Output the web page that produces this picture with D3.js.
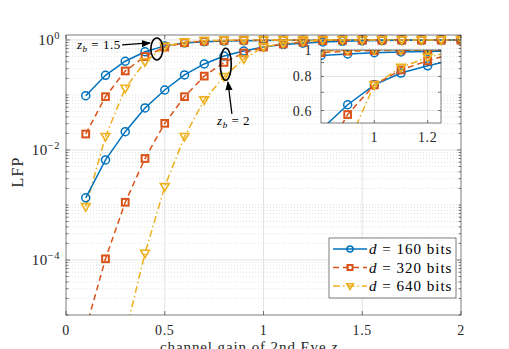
<!DOCTYPE html>
<html>
<head>
<meta charset="utf-8">
<script src="https://cdn.jsdelivr.net/npm/d3@7"></script>
<style>
  body { margin: 0; background: #fff; }
  svg { display: block; font-family: "Liberation Serif", serif; }
</style>
</head>
<body>
<svg id="chart" width="509" height="349"></svg>
<script>
// channel gain of 2nd Eve (x)
const zGain = [0.1, 0.2, 0.3, 0.4, 0.5, 0.6, 0.7, 0.8, 0.9, 1.0,
               1.1, 1.2, 1.3, 1.4, 1.5, 1.6, 1.7, 1.8, 1.9, 2.0];

// z_b = 1.5
const d160_zb15 = [0.097, 0.228, 0.41, 0.61, 0.78, 0.88, 0.93, 0.955, 0.967, 0.978,
                   0.984, 0.988, 0.992, 0.995, 0.997, 0.998, 0.999, 1, 1, 1];
const d320_zb15 = [0.0195, 0.093, 0.273, 0.50, 0.74, 0.89, 0.95, 0.978, 0.99, 0.995,
                   0.998, 0.999, 1, 1, 1, 1, 1, 1, 1, 1];
const d640_zb15 = [9.3e-4, 0.0175, 0.132, 0.40, 0.76, 0.92, 0.975, 0.99, 0.997, 0.999,
                   1, 1, 1, 1, 1, 1, 1, 1, 1, 1];
// z_b = 2
const d160_zb2 = [1.35e-3, 6.6e-3, 0.0215, 0.058, 0.123, 0.231, 0.366, 0.51, 0.63, 0.745,
                  0.823, 0.875, 0.92, 0.945, 0.962, 0.974, 0.983, 0.989, 0.993, 0.996];
const d320_zb2 = [5.6e-6, 1.05e-4, 1.12e-3, 7.0e-3, 0.0305, 0.093, 0.22, 0.39, 0.58, 0.745,
                  0.845, 0.913, 0.975, 0.99, 0.996, 0.998, 1, 1, 1, 1];
const d640_zb2 = [3e-10, 6e-8, 4.5e-6, 1.32e-4, 2.15e-3, 0.0175, 0.081, 0.215, 0.45, 0.745,
                  0.863, 0.94, 0.993, 0.999, 1, 1, 1, 1, 1, 1];

const seriesNames = ["160", "320", "640"];
const xTicks = [0, 0.5, 1, 1.5, 2];
const yTicks = [1, 1e-2, 1e-4];
const yTickExp = ["0", "\u22122", "\u22124"];
const insetXTicks = [1, 1.2];
const insetYTicks = [0.6, 0.8, 1];

const colors = ["#0072BD", "#D95319", "#EDB120"];
const dashes = [null, "6,4", "7,3,1.5,3"];
const axisColor = "#262626";

const svg = d3.select("#chart");
const margin = { top: 35, right: 48, bottom: 34, left: 66 };
const width = +svg.attr("width");
const height = +svg.attr("height");
const innerWidth = width - margin.left - margin.right;
const innerHeight = height - margin.top - margin.bottom;

const x = d3.scaleLinear().domain([0, 2]).range([0, innerWidth]);
const y = d3.scaleLog().domain([1e-5, 1.23]).range([innerHeight, 0]);

const chart = svg.append("g")
  .attr("transform", `translate(${margin.left},${margin.top})`);

svg.append("defs").append("clipPath").attr("id", "clip-main")
  .append("rect").attr("width", innerWidth).attr("height", innerHeight);

// minor log values
const minorY = [];
for (let e = -5; e <= 0; e++) {
  for (let k = 1; k <= 9; k++) {
    const v = k * Math.pow(10, e);
    if (v >= 1e-5 && v <= 1.23) minorY.push(v);
  }
}

// grid
chart.append("g").selectAll("line")
  .data(minorY.filter(v => !yTicks.includes(v) && v !== 1e-5))
  .join("line")
  .attr("x1", 0).attr("x2", innerWidth)
  .attr("y1", d => y(d)).attr("y2", d => y(d))
  .attr("stroke", "#cfcfcf").attr("stroke-width", 0.6)
  .attr("stroke-dasharray", "1,2");

chart.append("g").selectAll("line")
  .data(yTicks)
  .join("line")
  .attr("x1", 0).attr("x2", innerWidth)
  .attr("y1", d => y(d)).attr("y2", d => y(d))
  .attr("stroke", "#e3e3e3");

chart.append("g").selectAll("line")
  .data(xTicks.slice(1, -1))
  .join("line")
  .attr("x1", d => x(d)).attr("x2", d => x(d))
  .attr("y1", 0).attr("y2", innerHeight)
  .attr("stroke", "#e3e3e3");

// curves
const groups = [
  [d160_zb15, d320_zb15, d640_zb15],
  [d160_zb2, d320_zb2, d640_zb2]
];

function drawMarker(sel, i, size) {
  if (i === 0) {
    sel.append("circle").attr("r", size * 0.5)
      .attr("fill", "none").attr("stroke", colors[0]).attr("stroke-width", 1.5);
  } else if (i === 1) {
    sel.append("rect")
      .attr("x", -size * 0.42).attr("y", -size * 0.42)
      .attr("width", size * 0.84).attr("height", size * 0.84)
      .attr("fill", "none").attr("stroke", colors[1]).attr("stroke-width", 2);
  } else {
    const s = size * 0.55;
    sel.append("path")
      .attr("d", `M${-s},${-s * 0.7}L${s},${-s * 0.7}L0,${s * 1.0}Z`)
      .attr("fill", "none").attr("stroke", colors[2]).attr("stroke-width", 1.6);
  }
}

function drawCurves(g, xs, ys) {
  const line = d3.line().x((d, j) => xs(zGain[j])).y(d => ys(d));
  groups.forEach(group => {
    group.forEach((vals, i) => {
      g.append("path")
        .datum(vals)
        .attr("d", line)
        .attr("fill", "none")
        .attr("stroke", colors[i])
        .attr("stroke-width", 1.5)
        .attr("stroke-dasharray", dashes[i]);
    });
    group.forEach((vals, i) => {
      g.append("g").selectAll("g")
        .data(vals.map((v, j) => [zGain[j], v]).filter(d => d[1] >= ys.domain()[0] * 0.5))
        .join("g")
        .attr("transform", d => `translate(${xs(d[0])},${ys(d[1])})`)
        .each(function () { drawMarker(d3.select(this), i, 8); });
    });
  });
}

const plot = chart.append("g").attr("clip-path", "url(#clip-main)");
drawCurves(plot, x, y);

// axes box
chart.append("rect")
  .attr("width", innerWidth).attr("height", innerHeight)
  .attr("fill", "none").attr("stroke", axisColor).attr("stroke-width", 0.6);

// ticks (inward, mirrored)
xTicks.forEach(t => {
  [[innerHeight, -4], [0, 4]].forEach(([y0, dy]) => {
    chart.append("line")
      .attr("x1", x(t)).attr("x2", x(t))
      .attr("y1", y0).attr("y2", y0 + dy)
      .attr("stroke", axisColor).attr("stroke-width", 0.6);
  });
});
minorY.forEach(v => {
  const len = yTicks.includes(v) ? 4 : 2.5;
  [[0, len], [innerWidth, -len]].forEach(([x0, dx]) => {
    chart.append("line")
      .attr("x1", x0).attr("x2", x0 + dx)
      .attr("y1", y(v)).attr("y2", y(v))
      .attr("stroke", axisColor).attr("stroke-width", 0.6);
  });
});

chart.append("g").selectAll("text")
  .data(xTicks)
  .join("text")
  .attr("x", d => x(d)).attr("y", innerHeight + 20)
  .attr("text-anchor", "middle")
  .attr("font-size", 14).attr("letter-spacing", 0.6).attr("fill", axisColor)
  .text(d => d);

const yLab = chart.append("g").selectAll("text")
  .data(yTicks)
  .join("text")
  .attr("x", -6).attr("y", d => y(d) + 5)
  .attr("text-anchor", "end")
  .attr("font-size", 15).attr("letter-spacing", 0.5).attr("fill", axisColor);
yLab.append("tspan").text("10");
yLab.append("tspan").attr("dy", -6).attr("font-size", 10.5).text((d, i) => yTickExp[i]);

// axis titles
svg.append("text")
  .attr("transform", `translate(23,172) rotate(-90)`)
  .attr("text-anchor", "middle")
  .attr("font-size", 16).attr("letter-spacing", 1.2).attr("fill", axisColor)
  .text("LFP");

const xTitle = svg.append("text")
  .attr("x", 160).attr("y", 352)
  .attr("font-size", 15).attr("letter-spacing", 0.9).attr("fill", axisColor);
xTitle.append("tspan").text("channel gain of 2nd Eve ");
xTitle.append("tspan").attr("font-style", "italic").text("z");
xTitle.append("tspan").attr("font-size", 10).attr("dy", 3).attr("font-style", "italic").text("e");

// annotations (data coordinates)
const defs = svg.select("defs");
defs.append("marker").attr("id", "arrow")
  .attr("viewBox", "0 0 10 10").attr("refX", 9).attr("refY", 5)
  .attr("markerWidth", 7).attr("markerHeight", 7).attr("orient", "auto")
  .append("path").attr("d", "M0,1L10,5L0,9Z").attr("fill", "#000");

const ellipses = [
  { x: 0.46, y: 0.686, rx: 6, ry: 11 },
  { x: 0.809, y: 0.361, rx: 5.5, ry: 16 }
];
const arrows = [
  { x1: 0.284, y1: 0.811, x2: 0.425, y2: 0.882 },
  { x1: 0.84, y1: 0.0452, x2: 0.82, y2: 0.172 }
];
const notes = [
  { x: 0.056, y: 0.686, sub: "b", val: "1.5" },
  { x: 0.765, y: 0.0285, sub: "b", val: "2" }
];

chart.selectAll(".ell").data(ellipses).join("ellipse")
  .attr("cx", d => x(d.x)).attr("cy", d => y(d.y))
  .attr("rx", d => d.rx).attr("ry", d => d.ry)
  .attr("fill", "none").attr("stroke", "#000").attr("stroke-width", 1.6);

chart.selectAll(".arr").data(arrows).join("line")
  .attr("x1", d => x(d.x1)).attr("y1", d => y(d.y1))
  .attr("x2", d => x(d.x2)).attr("y2", d => y(d.y2))
  .attr("stroke", "#000").attr("stroke-width", 1.3)
  .attr("marker-end", "url(#arrow)");

const noteText = chart.selectAll(".note").data(notes).join("text")
  .attr("x", d => x(d.x)).attr("y", d => y(d.y))
  .attr("font-size", 13).attr("letter-spacing", 0.5).attr("fill", "#000");
noteText.append("tspan").attr("font-style", "italic").text("z");
noteText.append("tspan").attr("font-size", 9).attr("dy", 3).attr("font-style", "italic").text(d => d.sub);
noteText.append("tspan").attr("dy", -3).text(d => " = " + d.val);

// inset
const inset = { left: 321, top: 50, width: 120, height: 73 };
const xi = d3.scaleLinear().domain([0.8, 1.25]).range([0, inset.width]);
const yi = d3.scaleLog().domain([0.54, 1.0]).range([inset.height, 0]);

const ig = svg.append("g").attr("transform", `translate(${inset.left},${inset.top})`);
defs.append("clipPath").attr("id", "clip-inset")
  .append("rect").attr("width", inset.width).attr("height", inset.height);

ig.append("rect").attr("width", inset.width).attr("height", inset.height).attr("fill", "#fff");

const insetMinor = [0.6, 0.7, 0.8, 0.9, 1];
ig.append("g").selectAll("line")
  .data(insetMinor.filter(v => !insetYTicks.includes(v)))
  .join("line")
  .attr("x1", 0).attr("x2", inset.width)
  .attr("y1", d => yi(d)).attr("y2", d => yi(d))
  .attr("stroke", "#cfcfcf").attr("stroke-width", 0.6).attr("stroke-dasharray", "1,2");
ig.append("g").selectAll("line")
  .data(insetYTicks)
  .join("line")
  .attr("x1", 0).attr("x2", inset.width)
  .attr("y1", d => yi(d)).attr("y2", d => yi(d))
  .attr("stroke", "#e3e3e3");
ig.append("g").selectAll("line")
  .data(insetXTicks)
  .join("line")
  .attr("x1", d => xi(d)).attr("x2", d => xi(d))
  .attr("y1", 0).attr("y2", inset.height)
  .attr("stroke", "#e3e3e3");

const iplot = ig.append("g").attr("clip-path", "url(#clip-inset)");
drawCurves(iplot, xi, yi);

ig.append("rect").attr("width", inset.width).attr("height", inset.height)
  .attr("fill", "none").attr("stroke", axisColor).attr("stroke-width", 0.6);

insetXTicks.forEach(t => {
  [[inset.height, -3], [0, 3]].forEach(([y0, dy]) => {
    ig.append("line").attr("x1", xi(t)).attr("x2", xi(t))
      .attr("y1", y0).attr("y2", y0 + dy)
      .attr("stroke", axisColor).attr("stroke-width", 0.6);
  });
});
insetMinor.forEach(v => {
  [[0, 3], [inset.width, -3]].forEach(([x0, dx]) => {
    ig.append("line").attr("x1", x0).attr("x2", x0 + dx)
      .attr("y1", yi(v)).attr("y2", yi(v))
      .attr("stroke", axisColor).attr("stroke-width", 0.6);
  });
});

ig.append("g").selectAll("text").data(insetXTicks).join("text")
  .attr("x", d => xi(d)).attr("y", inset.height + 19)
  .attr("text-anchor", "middle").attr("font-size", 14).attr("letter-spacing", 0.6)
  .attr("fill", axisColor)
  .text(d => d);
ig.append("g").selectAll("text").data(insetYTicks).join("text")
  .attr("x", -9).attr("y", d => yi(d) + 5)
  .attr("text-anchor", "end").attr("font-size", 14).attr("letter-spacing", 0.6)
  .attr("fill", axisColor)
  .text(d => d);

// legend
const legend = svg.append("g").attr("transform", "translate(329,238)");
legend.append("rect").attr("width", 127).attr("height", 60)
  .attr("fill", "#fff").attr("stroke", axisColor).attr("stroke-width", 0.6);

seriesNames.forEach((name, i) => {
  const row = legend.append("g").attr("transform", `translate(0,${11 + i * 18.5})`);
  row.append("line").attr("x1", 4).attr("x2", 38)
    .attr("stroke", colors[i]).attr("stroke-width", 1.5)
    .attr("stroke-dasharray", dashes[i]);
  const m = row.append("g").attr("transform", "translate(21,0)");
  drawMarker(m, i, 6);
  const t = row.append("text").attr("x", 40).attr("y", 5)
    .attr("font-size", 15).attr("letter-spacing", 1).attr("fill", "#000");
  t.append("tspan").attr("font-style", "italic").text("d");
  t.append("tspan").text(` = ${name} bits`);
});
</script>
</body>
</html>
